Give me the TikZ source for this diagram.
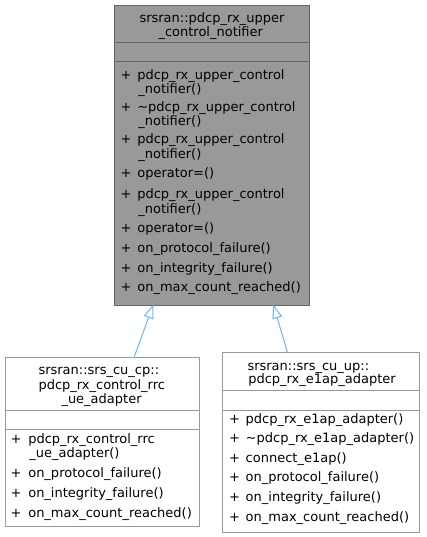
\documentclass[tikz,border=0pt]{standalone}
\usepackage{fontspec}
\setmainfont{DejaVu Sans}
\usetikzlibrary{arrows.meta}
\definecolor{topfill}{HTML}{999999}
\definecolor{topdraw}{HTML}{666666}
\definecolor{chdraw}{HTML}{999999}
\definecolor{arrowc}{HTML}{63B8FF}
\tikzset{
  txt/.style={anchor=base west, inner sep=0pt, outer sep=0pt, font=\fontsize{13}{15}\selectfont},
  ctxt/.style={anchor=base, inner sep=0pt, outer sep=0pt, font=\fontsize{13}{15}\selectfont},
  classbox/.style={draw=#1, line width=1pt, inner sep=0pt, anchor=north west},
  sepline/.style={draw=#1, line width=1pt},
  inherit/.style={draw=arrowc, line width=1pt, -{Triangle[open, length=14pt, width=10pt, line width=1pt]}}
}
\begin{document}
\begin{tikzpicture}[x=1pt,y=-1pt]
\useasboundingbox (0,0) rectangle (426,537);
% ---------- top class ----------
\node[classbox=topdraw, fill=topfill, minimum width=194.7pt, minimum height=299.8pt] (top) at (114,4.7) {};
\draw[sepline=topdraw] (114,42.3) -- (308.7,42.3);
\draw[sepline=topdraw] (114,62) -- (308.7,62);
\node[txt] (tt1) at (139.5,22.3) {srsran::pdcp\_rx\_upper};
\node[txt] (tt2) at (158.5,36.7) {\_control\_notifier};
\foreach \y/\t [count=\i] in {
  79.5/pdcp\_rx\_upper\_control,
  111.5/\textasciitilde pdcp\_rx\_upper\_control,
  144/pdcp\_rx\_upper\_control,
  178/operator=(),
  198.5/pdcp\_rx\_upper\_control,
  232.5/operator=(),
  252/on\_protocol\_failure(),
  272/on\_integrity\_failure(),
  291.7/on\_max\_count\_reached()} {
  \node[txt] (tp\i) at (120.7,\y) {+};
  \node[txt] (tm\i) at (137.3,\y) {\t};
}
\foreach \y [count=\i] in {94,126,158.5,213} {
  \node[txt] (tc\i) at (138.3,\y) {\_notifier()};
}
% ---------- left child ----------
\node[classbox=chdraw, fill=white, minimum width=194pt, minimum height=169.3pt] (cp) at (4.7,356.7) {};
\draw[sepline=chdraw] (4.7,410) -- (198.7,410);
\draw[sepline=chdraw] (4.7,429.3) -- (198.7,429.3);
\node[txt] (lt1) at (38.5,374.3) {srsran::srs\_cu\_cp::};
\node[txt] (lt2) at (38.5,389) {pdcp\_rx\_control\_rrc};
\node[txt] (lt3) at (61.5,403.3) {\_ue\_adapter};
\foreach \y/\t [count=\i] in {
  443.3/pdcp\_rx\_control\_rrc,
  477.3/on\_protocol\_failure(),
  497.3/on\_integrity\_failure(),
  517.3/on\_max\_count\_reached()} {
  \node[txt] (lp\i) at (10.7,\y) {+};
  \node[txt] (lm\i) at (28.3,\y) {\t};
}
\node[txt] (lc1) at (29.3,457.7) {\_ue\_adapter()};
% ---------- right child ----------
\node[classbox=chdraw, fill=white, minimum width=196.7pt, minimum height=179.7pt] (up) at (222.3,352.3) {};
\draw[sepline=chdraw] (222.3,390) -- (419,390);
\draw[sepline=chdraw] (222.3,410) -- (419,410);
\node[txt] (rt1) at (247.5,370) {srsran::srs\_cu\_up::};
\node[txt] (rt2) at (248.3,383.3) {pdcp\_rx\_e1ap\_adapter};
\foreach \y/\t [count=\i] in {
  423.3/pdcp\_rx\_e1ap\_adapter(),
  442.7/\textasciitilde pdcp\_rx\_e1ap\_adapter(),
  462.3/connect\_e1ap(),
  481.7/on\_protocol\_failure(),
  501.7/on\_integrity\_failure(),
  521.7/on\_max\_count\_reached()} {
  \node[txt] (rp\i) at (229,\y) {+};
  \node[txt] (rm\i) at (245.7,\y) {\t};
}
% ---------- inheritance ----------
\coordinate (a1s) at (134.3,356.7);
\coordinate (a1e) at (153.3,304.5);
\coordinate (a2s) at (287.4,352.3);
\coordinate (a2e) at (273.3,304.5);
\draw[inherit] (a1s) -- (a1e);
\draw[inherit] (a2s) -- (a2e);
\end{tikzpicture}
\end{document}
